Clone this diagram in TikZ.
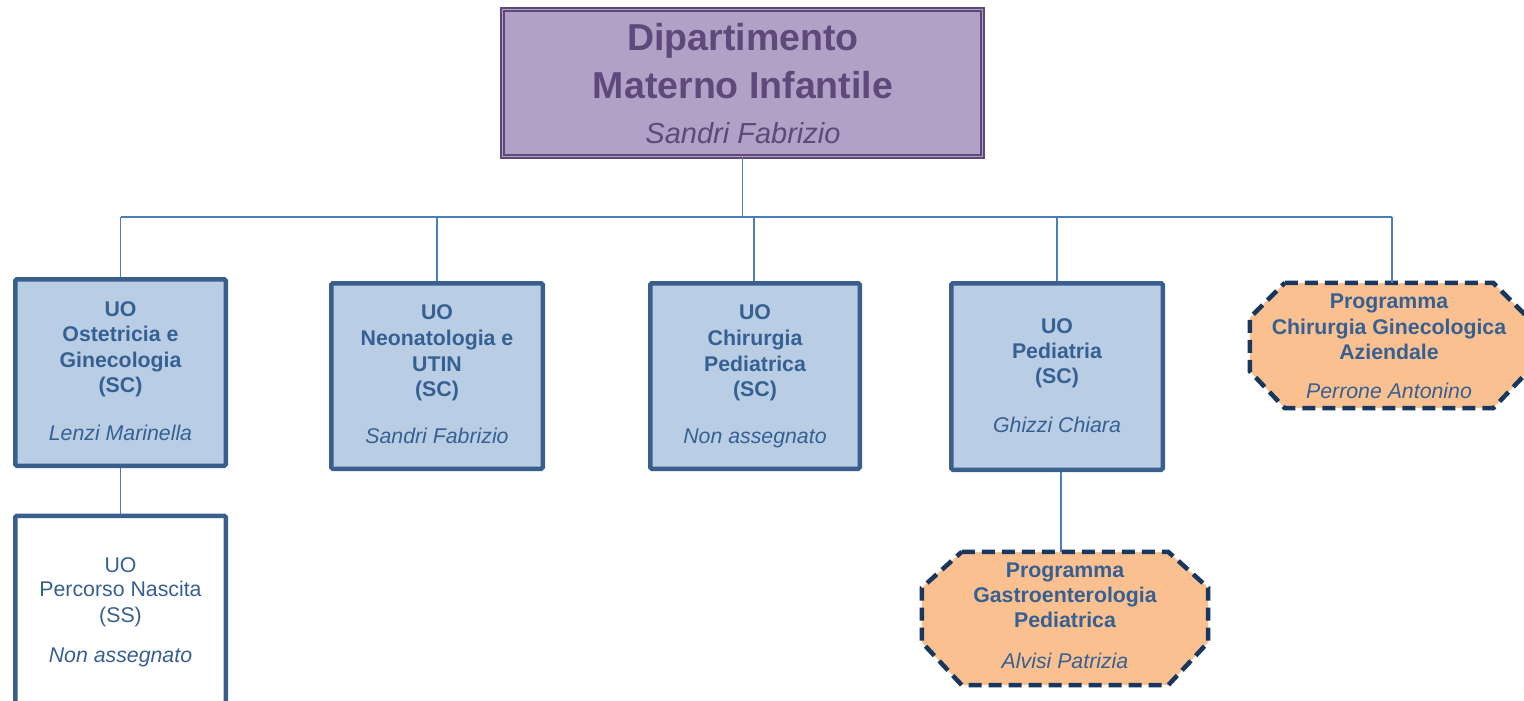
\documentclass[tikz,border=0pt]{standalone}
\usepackage{fontspec}
\setmainfont{Liberation Sans}
\usetikzlibrary{calc}
\definecolor{topfill}{HTML}{B2A1C7}
\definecolor{toptext}{HTML}{5F497A}
\definecolor{boxfill}{HTML}{B9CDE5}
\definecolor{boxline}{HTML}{3A5F8C}
\definecolor{boxtext}{HTML}{376092}
\definecolor{octfill}{HTML}{FAC090}
\definecolor{octline}{HTML}{17375E}
\definecolor{connline}{HTML}{4A7EBB}
\tikzset{
  topbox/.style={draw=toptext, line width=1.2pt, double=topfill, double distance=1.8pt, fill=topfill, inner sep=0, minimum width=480pt, minimum height=147pt},
  unitbox/.style={draw=boxline, line width=4.5pt, fill=boxfill, rounded corners=1.5pt, inner sep=0},
  whitebox/.style={draw=boxline, line width=4.5pt, fill=white, rounded corners=1.5pt, inner sep=0},
  octframe/.style={draw=octline, fill=octfill, line width=4.5pt, dash pattern=on 13pt off 7pt},
  conn/.style={draw=connline, line width=1.4pt},
  ttl/.style={anchor=base, inner sep=0, text=toptext, font=\fontsize{37.5}{40}\selectfont\bfseries},
  ttn/.style={anchor=base, inner sep=0, text=toptext, font=\fontsize{29}{30}\selectfont\itshape},
  bt/.style={anchor=base, inner sep=0, text=boxtext, font=\fontsize{21.3}{24}\selectfont\bfseries},
  rt/.style={anchor=base, inner sep=0, text=boxtext, font=\fontsize{21.3}{24}\selectfont},
  it/.style={anchor=base, inner sep=0, text=boxtext, font=\fontsize{21.3}{24}\selectfont\itshape},
}
\begin{document}
\begin{tikzpicture}[x=1pt,y=-1pt]
\useasboundingbox (0,0) rectangle (1524,701);
\clip (0,0) rectangle (1524,701);

% top box
\node[topbox] (top) at (742.5,83) {};
\node[ttl] (topa) at (743,51) {Dipartimento};
\node[ttl] (topb) at (743,99) {Materno Infantile};
\node[ttn] (topc) at (743,143) {Sandri Fabrizio};

% unit boxes
\node[unitbox, minimum width=210.5pt, minimum height=186.5pt] (b1) at (120.5,372.5) {};
\node[unitbox, minimum width=211.5pt, minimum height=185.5pt] (b2) at (437,376) {};
\node[unitbox, minimum width=209.5pt, minimum height=185.5pt] (b3) at (755,376) {};
\node[unitbox, minimum width=211.5pt, minimum height=186.5pt] (b4) at (1057,376.5) {};
\node[whitebox, minimum width=210.5pt, minimum height=187.5pt] (b5) at (120.5,609.5) {};

% octagons (frames drawn from node corners)
\node[inner sep=0, minimum width=278pt, minimum height=125pt] (p1) at (1389,345.5) {};
\node[inner sep=0, minimum width=286pt, minimum height=133pt] (p2) at (1065,618.5) {};
\draw[octframe] ([xshift=35pt]p1.north west) -- ([xshift=-35pt]p1.north east)
  -- ([yshift=-35pt]p1.north east) -- ([yshift=37pt]p1.south east)
  -- ([xshift=-35pt]p1.south east) -- ([xshift=35pt]p1.south west)
  -- ([yshift=37pt]p1.south west) -- ([yshift=-35pt]p1.north west) -- cycle;
\draw[octframe] ([xshift=40pt]p2.north west) -- ([xshift=-40pt]p2.north east)
  -- ([yshift=-36pt]p2.north east) -- ([yshift=43pt]p2.south east)
  -- ([xshift=-40pt]p2.south east) -- ([xshift=40pt]p2.south west)
  -- ([yshift=43pt]p2.south west) -- ([yshift=-36pt]p2.north west) -- cycle;

% connectors
\coordinate (bus) at (0,217);
\coordinate (busl) at (b1.north |- bus);
\coordinate (busr) at ([xshift=3pt]p1.north |- bus);
\draw[conn] (top.south) -- (top.south |- bus);
\draw[conn] (busl) -- (busr);
\draw[conn] (b1.north) -- (busl);
\draw[conn] (b2.north) -- (b2.north |- bus);
\draw[conn] ([xshift=-1pt]b3.north) -- ([xshift=-1pt]b3.north |- bus);
\draw[conn] (b4.north) -- (b4.north |- bus);
\draw[conn] ([xshift=3pt]p1.north) -- (busr);
\draw[conn] (b1.south) -- (b5.north);
\draw[conn] ([xshift=4pt]b4.south) -- ([xshift=4pt]b4.south |- p2.north);

% box texts
\node[bt] (t1a) at (120.5,316) {UO};
\node[bt] (t1b) at (120.5,341) {Ostetricia e};
\node[bt] (t1c) at (120.5,367) {Ginecologia};
\node[bt] (t1d) at (120.5,392) {(SC)};
\node[it] (t1e) at (120.5,440) {Lenzi Marinella};

\node[bt] (t2a) at (437,319) {UO};
\node[bt] (t2b) at (437,345) {Neonatologia e};
\node[bt] (t2c) at (437,371) {UTIN};
\node[bt] (t2d) at (437,396) {(SC)};
\node[it] (t2e) at (437,443) {Sandri Fabrizio};

\node[bt] (t3a) at (755,319) {UO};
\node[bt] (t3b) at (755,345) {Chirurgia};
\node[bt] (t3c) at (755,371) {Pediatrica};
\node[bt] (t3d) at (755,396) {(SC)};
\node[it] (t3e) at (755,443) {Non assegnato};

\node[bt] (t4a) at (1057,333) {UO};
\node[bt] (t4b) at (1057,358) {Pediatria};
\node[bt] (t4c) at (1057,383) {(SC)};
\node[it] (t4d) at (1057,432) {Ghizzi Chiara};

\node[rt] (t5a) at (120.5,572) {UO};
\node[rt] (t5b) at (120.5,596) {Percorso Nascita};
\node[rt] (t5c) at (120.5,622) {(SS)};
\node[it] (t5d) at (120.5,662) {Non assegnato};

\node[bt] (o1a) at (1389,308) {Programma};
\node[bt] (o1b) at (1389,334) {Chirurgia Ginecologica};
\node[bt] (o1c) at (1389,359) {Aziendale};
\node[it] (o1d) at (1389,398) {Perrone Antonino};

\node[bt] (o2a) at (1065,577) {Programma};
\node[bt] (o2b) at (1065,602) {Gastroenterologia};
\node[bt] (o2c) at (1065,627) {Pediatrica};
\node[it] (o2d) at (1065,668) {Alvisi Patrizia};
\end{tikzpicture}
\end{document}
